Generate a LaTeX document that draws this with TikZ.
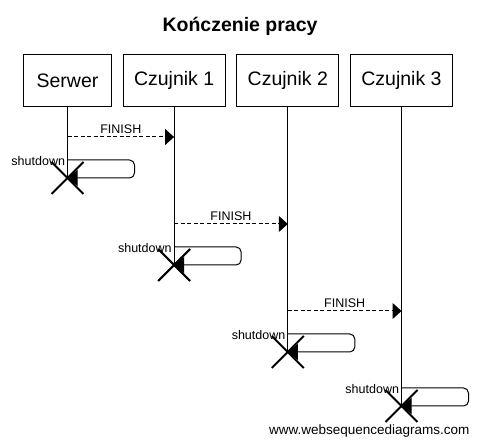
\documentclass[tikz,border=0pt]{standalone}
\usepackage{fontspec}
\setmainfont{Liberation Sans}
\usetikzlibrary{positioning,arrows.meta,shapes.misc}

\begin{document}
\begin{tikzpicture}[x=1pt,y=-1pt,
					node distance=10.5pt,
					line width=1pt,
					actor box/.style={rectangle,draw,minimum height=52pt,minimum width=88pt,inner xsep=11pt,
					                  font=\fontsize{19.5}{22}\selectfont},
					message/.style={dash pattern=on 4pt off 2.5pt,
					                -{Triangle[length=9pt,width=16pt]}},
					self message/.style={rounded corners=5pt,
					                     -{Triangle[length=10pt,width=16pt]}},
					kill mark/.style={cross out,draw,line width=2pt,minimum size=30pt,inner sep=0pt},
					label text/.style={font=\fontsize{12.5}{14}\selectfont,inner sep=0pt}]

  \useasboundingbox (0,0) rectangle (480,446);

  \node[font=\bfseries\fontsize{19.5}{22}\selectfont,anchor=base] (title) at (240,32) {Kończenie pracy};

  \node[actor box,anchor=north west] (serwer) at (23,54) {Serwer};
  \node[actor box] (cz1) [right=of serwer] {Czujnik 1};
  \node[actor box] (cz2) [right=of cz1] {Czujnik 2};
  \node[actor box] (cz3) [right=of cz2] {Czujnik 3};

  % message ends
  \coordinate (f1a) at (serwer |- 0,137);
  \coordinate (f1b) at (cz1 |- 0,137);
  \coordinate (f2a) at (cz1 |- 0,224);
  \coordinate (f2b) at (cz2 |- 0,224);
  \coordinate (f3a) at (cz2 |- 0,311);
  \coordinate (f3b) at (cz3 |- 0,311);
  \coordinate (s0) at (serwer |- 0,160);
  \coordinate (s1) at (cz1 |- 0,247);
  \coordinate (s2) at (cz2 |- 0,334);
  \coordinate (s3) at (cz3 |- 0,388);

  % lifelines
  \coordinate (e0) at (serwer |- 0,178);
  \coordinate (e1) at (cz1 |- 0,265);
  \coordinate (e2) at (cz2 |- 0,352);
  \coordinate (e3) at (cz3 |- 0,406);
  \draw (serwer.south) -- (e0);
  \draw (cz1.south) -- (e1);
  \draw (cz2.south) -- (e2);
  \draw (cz3.south) -- (e3);

  \draw[message] (f1a) -- node[label text,anchor=base,yshift=3.5pt] {FINISH} (f1b);
  \draw[message] (f2a) -- node[label text,anchor=base,yshift=3.5pt] {FINISH} (f2b);
  \draw[message] (f3a) -- node[label text,anchor=base,yshift=3.5pt] {FINISH} (f3b);

  \draw[self message] (s0) node[label text,anchor=base east,xshift=-2pt,yshift=-6pt] {shutdown}
    -- ++(67,0) -- ++(0,18) -- (e0);
  \draw[self message] (s1) node[label text,anchor=base east,xshift=-2pt,yshift=-6pt] {shutdown}
    -- ++(67,0) -- ++(0,18) -- (e1);
  \draw[self message] (s2) node[label text,anchor=base east,xshift=-2pt,yshift=-6pt] {shutdown}
    -- ++(67,0) -- ++(0,18) -- (e2);
  \draw[self message] (s3) node[label text,anchor=base east,xshift=-2pt,yshift=-6pt] {shutdown}
    -- ++(67,0) -- ++(0,18) -- (e3);

  \node[kill mark] (k0) at (e0) {};
  \node[kill mark] (k1) at (e1) {};
  \node[kill mark] (k2) at (e2) {};
  \node[kill mark] (k3) at (e3) {};

  \node[font=\fontsize{13.5}{16}\selectfont,anchor=base east,inner sep=0pt] (wsd) at (470,435)
    {www.websequencediagrams.com};
\end{tikzpicture}
\end{document}
